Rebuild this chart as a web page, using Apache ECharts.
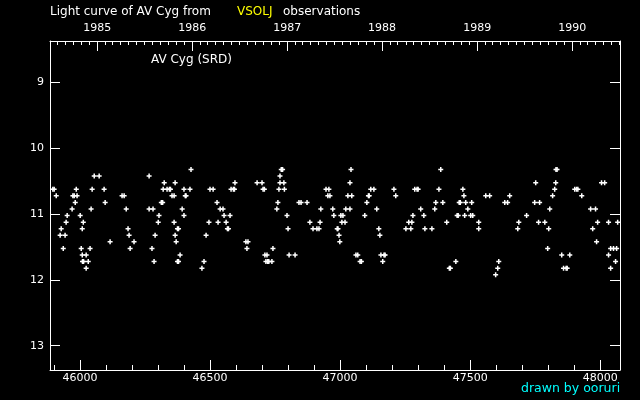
<!DOCTYPE html>
<html>
<head>
<meta charset="utf-8">
<title>Light curve of AV Cyg</title>
<script src="https://cdn.jsdelivr.net/npm/echarts@6/dist/echarts.min.js"></script>
<style>
  html, body { margin: 0; padding: 0; background: #000; }
  #chart { width: 640px; height: 400px; }
</style>
</head>
<body>
<div id="chart"></div>
<script>
// JD - 2400000 of each visual observation
const obsJD = [
  45896, 45901, 45909, 45924, 45928, 45936, 45943, 45947, 45951, 45970,
  45973, 45978, 45982, 45986, 45989, 46001, 46005, 46009, 46009, 46010,
  46013, 46014, 46024, 46024, 46032, 46039, 46043, 46047, 46055, 46074,
  46093, 46097, 46116, 46162, 46170, 46178, 46185, 46189, 46193, 46208,
  46266, 46266, 46277, 46281, 46285, 46289, 46301, 46304, 46313, 46318,
  46320, 46324, 46335, 46344, 46348, 46354, 46362, 46362, 46366, 46366,
  46370, 46375, 46379, 46375, 46379, 46385, 46393, 46400, 46400, 46405,
  46408, 46423, 46427, 46469, 46477, 46485, 46496, 46500, 46512, 46527,
  46531, 46539, 46550, 46554, 46562, 46567, 46571, 46577, 46581, 46590,
  46594, 46596, 46638, 46642, 46646, 46681, 46700, 46704, 46709, 46711,
  46715, 46719, 46722, 46726, 46738, 46742, 46757, 46761, 46765, 46769,
  46769, 46774, 46779, 46784, 46786, 46796, 46800, 46804, 46827, 46842,
  46850, 46873, 46884, 46896, 46911, 46919, 46923, 46926, 46946, 46953,
  46957, 46961, 46972, 46976, 46989, 46992, 46996, 46999, 47003, 47007,
  47011, 47019, 47022, 47030, 47038, 47038, 47042, 47045, 47061, 47068,
  47077, 47082, 47095, 47103, 47109, 47112, 47118, 47130, 47141, 47149,
  47153, 47157, 47164, 47169, 47173, 47207, 47214, 47253, 47264, 47272,
  47276, 47280, 47287, 47296, 47300, 47310, 47322, 47326, 47353, 47364,
  47368, 47380, 47387, 47395, 47410, 47420, 47424, 47445, 47450, 47454,
  47458, 47462, 47472, 47476, 47479, 47483, 47491, 47502, 47506, 47510,
  47533, 47533, 47560, 47575, 47598, 47606, 47610, 47633, 47644, 47652,
  47683, 47687, 47717, 47748, 47752, 47763, 47767, 47787, 47798, 47802,
  47806, 47817, 47825, 47829, 47830, 47834, 47852, 47859, 47869, 47873,
  47883, 47902, 47909, 47914, 47929, 47963, 47971, 47982, 47986, 47990,
  48005, 48017, 48032, 48032, 48040, 48040, 48051, 48059, 48063, 48067
];
// visual magnitude, same order
const obsMag = [
  10.6, 10.6, 10.7, 11.3, 11.2, 11.5, 11.3, 11.1, 11.0, 10.9,
  10.7, 10.7, 10.8, 10.6, 10.7, 11.0, 11.5, 11.2, 11.6, 11.7,
  11.1, 11.7, 11.6, 11.8, 11.7, 11.5, 10.9, 10.6, 10.4, 10.4,
  10.6, 10.8, 11.4, 10.7, 10.7, 10.9, 11.2, 11.3, 11.5, 11.4,
  10.4, 10.9, 11.5, 10.9, 11.7, 11.3, 11.1, 11.0, 10.8, 10.8,
  10.6, 10.5, 10.6, 10.6, 10.6, 10.7, 10.7, 11.1, 10.5, 11.3,
  11.4, 11.2, 11.2, 11.7, 11.7, 11.6, 10.9, 10.6, 11.0, 10.7,
  10.7, 10.6, 10.3, 11.8, 11.7, 11.3, 11.1, 10.6, 10.6, 10.8,
  11.1, 10.9, 10.9, 11.0, 11.1, 11.2, 11.2, 11.0, 10.6, 10.6,
  10.6, 10.5, 11.4, 11.5, 11.4, 10.5, 10.5, 10.6, 10.6, 11.6,
  11.7, 11.6, 11.7, 11.7, 11.7, 11.5, 10.9, 10.8, 10.6, 10.4,
  10.5, 10.3, 10.3, 10.5, 10.6, 11.0, 11.2, 11.6, 11.6, 10.8,
  10.8, 10.8, 11.1, 11.2, 11.2, 11.2, 11.1, 10.9, 10.6, 10.7,
  10.6, 10.7, 10.9, 11.0, 11.2, 11.2, 11.3, 11.4, 11.0, 11.1,
  11.0, 11.1, 10.9, 10.7, 10.5, 10.9, 10.3, 10.7, 11.6, 11.6,
  11.7, 11.7, 11.0, 10.8, 10.7, 10.7, 10.6, 10.6, 10.9, 11.2,
  11.3, 11.6, 11.7, 11.6, 11.6, 10.6, 10.7, 11.2, 11.1, 11.2,
  11.1, 11.0, 10.6, 10.6, 10.6, 10.9, 11.0, 11.2, 11.2, 10.9,
  10.8, 10.6, 10.3, 10.8, 11.1, 11.8, 11.8, 11.7, 11.0, 11.0,
  10.8, 10.8, 10.6, 10.7, 11.0, 10.8, 10.9, 11.0, 10.8, 11.0,
  11.1, 11.2, 10.7, 10.7, 11.9, 11.8, 11.7, 10.8, 10.8, 10.7,
  11.2, 11.1, 11.0, 10.8, 10.5, 11.1, 10.8, 11.1, 11.5, 11.2,
  10.9, 10.7, 10.6, 10.5, 10.3, 10.3, 11.6, 11.8, 11.8, 11.8,
  11.6, 10.6, 10.6, 10.6, 10.7, 10.9, 11.2, 10.9, 11.4, 11.1,
  10.5, 10.5, 11.1, 11.6, 11.5, 11.8, 11.5, 11.7, 11.5, 11.1
];

const jdTicks = [46000, 46500, 47000, 47500, 48000];
const jdMinorTicks = [
  45900, 46100, 46200, 46300, 46400, 46600, 46700, 46800, 46900,
  47100, 47200, 47300, 47400, 47600, 47700, 47800, 47900
];
const magTicks = [9, 10, 11, 12, 13];
const years = [1985, 1986, 1987, 1988, 1989, 1990];

const jdMin = 45885, jdMax = 48076;
const magMin = 8.37, magMax = 13.37;

// calendar date -> JD - 2400000
function toJD(y, m) {
  return Date.UTC(y, m, 1) / 86400000 + 2440587.5 - 2400000;
}
const yearJD = years.map(y => toJD(y, 0));
const monthJD = [];
for (let y = 1984; y <= 1990; y++) {
  for (let m = 1; m < 12; m++) {
    const jd = toJD(y, m);
    if (jd > jdMin && jd < jdMax) monthJD.push(jd);
  }
}

const font = 'DejaVu Sans';
const white = '#ffffff';
const textFont = '12px "DejaVu Sans"';

const chart = echarts.init(document.getElementById('chart'));
chart.setOption({
  backgroundColor: '#000000',
  animation: false,
  grid: { left: 50, right: 20, top: 41, bottom: 30, containLabel: false, outerBoundsMode: 'none' },
  xAxis: [
    {
      type: 'value', position: 'bottom', min: jdMin, max: jdMax,
      splitLine: { show: false },
      axisLine: { show: true, lineStyle: { color: white, width: 1 } },
      axisTick: { show: true, inside: true, length: 10, customValues: jdTicks, lineStyle: { color: white } },
      axisLabel: {
        show: true, customValues: jdTicks, color: white, fontFamily: font, fontSize: 11, margin: 3,
        formatter: v => String(v)
      }
    },
    {
      type: 'value', position: 'bottom', min: jdMin, max: jdMax,
      splitLine: { show: false },
      axisLine: { show: false },
      axisTick: { show: true, inside: true, length: 5, customValues: jdMinorTicks, lineStyle: { color: white } },
      axisLabel: { show: false }
    },
    {
      type: 'value', position: 'top', min: jdMin, max: jdMax,
      splitLine: { show: false },
      axisLine: { show: true, lineStyle: { color: white, width: 1 } },
      axisTick: { show: true, inside: true, length: 10, customValues: yearJD, lineStyle: { color: white } },
      axisLabel: {
        show: true, customValues: yearJD, color: white, fontFamily: font, fontSize: 11, margin: 7,
        formatter: v => String(years[yearJD.indexOf(v)])
      }
    },
    {
      type: 'value', position: 'top', min: jdMin, max: jdMax,
      splitLine: { show: false },
      axisLine: { show: false },
      axisTick: { show: true, inside: true, length: 4, customValues: monthJD, lineStyle: { color: white } },
      axisLabel: { show: false }
    }
  ],
  yAxis: [
    {
      type: 'value', position: 'left', inverse: true, min: magMin, max: magMax,
      splitLine: { show: false },
      axisLine: { show: true, lineStyle: { color: white, width: 1 } },
      axisTick: { show: true, inside: true, length: 10, customValues: magTicks, lineStyle: { color: white } },
      axisLabel: { show: true, customValues: magTicks, color: white, fontFamily: font, fontSize: 11, margin: 6 }
    },
    {
      type: 'value', position: 'right', inverse: true, min: magMin, max: magMax,
      splitLine: { show: false },
      axisLine: { show: true, lineStyle: { color: white, width: 1 } },
      axisTick: { show: true, inside: true, length: 10, customValues: magTicks, lineStyle: { color: white } },
      axisLabel: { show: false }
    }
  ],
  series: [{
    type: 'scatter',
    xAxisIndex: 0,
    yAxisIndex: 0,
    data: obsJD.map((jd, i) => [jd, obsMag[i]]),
    symbol: 'path://M1.75,0H3.25V1.75H5V3.25H3.25V5H1.75V3.25H0V1.75H1.75Z',
    symbolSize: 5,
    symbolOffset: [0, 1.5],
    itemStyle: { color: white, opacity: 1 },
    emphasis: { disabled: true }
  }],
  graphic: [
    { type: 'text', left: 50, top: 6, style: { text: 'Light curve of AV Cyg from', fill: white, font: textFont } },
    { type: 'text', left: 237, top: 6, style: { text: 'VSOLJ', fill: '#ffff00', font: textFont } },
    { type: 'text', left: 283, top: 6, style: { text: 'observations', fill: white, font: textFont } },
    { type: 'text', left: 151, top: 54, style: { text: 'AV Cyg (SRD)', fill: white, font: textFont } },
    { type: 'text', left: 521, top: 382, style: { text: 'drawn by ooruri', fill: '#00ffff', font: '12.5px "DejaVu Sans"' } }
  ]
});
</script>
</body>
</html>
